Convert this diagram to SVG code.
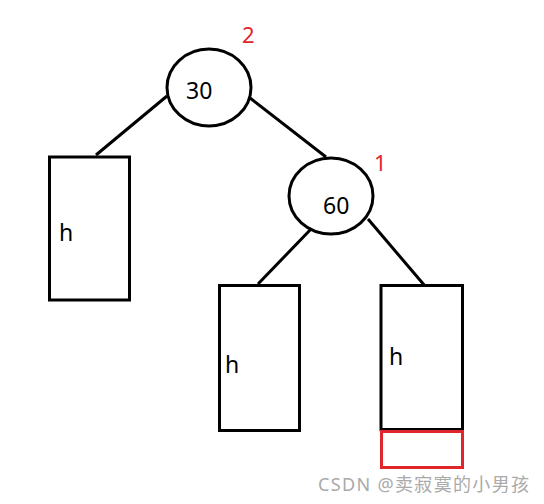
<svg xmlns="http://www.w3.org/2000/svg" width="544" height="504" viewBox="0 0 544 504">
<style>
.n{fill:#fff;stroke:#000;stroke-width:3}
.e{stroke:#000;stroke-width:3;fill:none}
.t{font-family:"Noto Sans","Open Sans",sans-serif;font-size:23px;fill:#000}
.r{font-family:"Noto Sans","Open Sans",sans-serif;font-size:22px;fill:#e0262b}
.w{font-family:"Noto Sans","Noto Sans CJK SC",sans-serif;font-size:18px;fill:#aaa}
</style>
<rect width="544" height="504" fill="#fff"/>
<g id="connectors">
<line class="e" x1="167" y1="96" x2="96" y2="155"/>
<line class="e" x1="250" y1="98" x2="326" y2="157"/>
<line class="e" x1="313" y1="227" x2="258" y2="284"/>
<line class="e" x1="368" y1="219" x2="425" y2="286"/>
</g>
<g id="n30">
<ellipse class="n" cx="209" cy="87.5" rx="42" ry="38.5"/>
<text class="t" x="186" y="99">30</text>
<text class="r" x="242" y="43">2</text>
</g>
<g id="n60">
<ellipse class="n" cx="331" cy="196" rx="42" ry="38"/>
<text class="t" x="323" y="214">60</text>
<text class="r" x="374" y="171">1</text>
</g>
<g id="hleft">
<rect class="n" x="49.5" y="157" width="80" height="143"/>
<text class="t" x="59" y="241">h</text>
</g>
<g id="hmid">
<rect class="n" x="219.5" y="285.5" width="80" height="145"/>
<text class="t" x="225" y="373">h</text>
</g>
<g id="hright">
<rect class="n" x="381" y="285.5" width="81.5" height="144"/>
<text class="t" x="389" y="365">h</text>
</g>
<g id="extra">
<rect x="381.5" y="431.5" width="81" height="36" fill="none" stroke="#e0262b" stroke-width="3"/>
</g>
<text class="w" x="318" y="491" textLength="211" lengthAdjust="spacing">CSDN @卖寂寞的小男孩</text>
</svg>
